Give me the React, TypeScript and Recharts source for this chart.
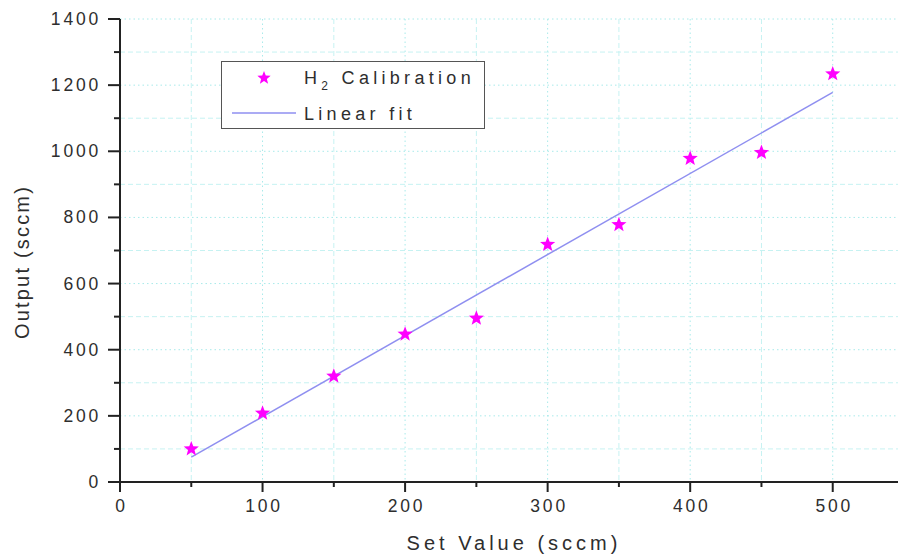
import React from 'react';
import { ComposedChart, Scatter, XAxis, YAxis, CartesianGrid } from 'recharts';

// H2 flow controller calibration: set value vs measured output (sccm)
const setValues = [50, 100, 150, 200, 250, 300, 350, 400, 450, 500];
const outputs = [100, 208, 320, 447, 495, 718, 778, 978, 996, 1234];

// end points of the linear fit line
const fitX = [50, 500];
const fitY = [75, 1178];

const xTicks = [0, 50, 100, 150, 200, 250, 300, 350, 400, 450, 500, 550];
const xMajor = [0, 100, 200, 300, 400, 500];
const xMinor = [50, 150, 250, 350, 450, 550];
const yTicks = [0, 100, 200, 300, 400, 500, 600, 700, 800, 900, 1000, 1100, 1200, 1300, 1400];
const yMajor = [0, 200, 400, 600, 800, 1000, 1200, 1400];
const yMinor = [100, 300, 500, 700, 900, 1100, 1300];

const calibData = setValues.map((x, i) => ({ x, y: outputs[i] }));
const fitData = fitX.map((x, i) => ({ x, y: fitY[i] }));

const FONT = '"Liberation Sans", Arial, sans-serif';
const TEXT = '#2e2e2e';
const AXIS = '#222';
const STAR = '#ff00ff';
const FIT = '#8f8ff0';

const starPoints = (cx: number, cy: number, r: number, ri: number) => {
  const pts: string[] = [];
  for (let i = 0; i < 10; i++) {
    const rad = i % 2 === 0 ? r : ri;
    const a = -Math.PI / 2 + (i * Math.PI) / 5;
    pts.push(`${cx + rad * Math.cos(a)},${cy + rad * Math.sin(a)}`);
  }
  return pts.join(' ');
};

const StarShape = (props: any) => {
  const { cx, cy } = props;
  return <polygon points={starPoints(cx, cy, 8, 3.4)} fill={STAR} />;
};

const NoShape = () => null;

const makeTick = (side: 'left' | 'bottom' | 'top' | 'right') => (props: any) => {
  const { x, y, payload } = props;
  const v = payload.value;
  const horiz = side === 'bottom' || side === 'top';
  const major = horiz ? xMajor.includes(v) : yMajor.includes(v);
  const len = major ? (horiz ? 10 : 12) : (horiz ? 5 : 6);
  let line;
  if (side === 'bottom' || side === 'top') line = <line x1={x} y1={y} x2={x} y2={y + len} />;
  else line = <line x1={x} y1={y} x2={x - len} y2={y} />;
  let label = null;
  if (major && side === 'bottom') {
    label = (
      <text x={x + 1.5} y={y + 30} textAnchor="middle" fill={TEXT} stroke="none"
        fontSize={17.5} letterSpacing={2.8} fontFamily={FONT}>{v}</text>
    );
  }
  if (major && side === 'left') {
    label = (
      <text x={x - 19} y={y + 6} textAnchor="end" fill={TEXT} stroke="none"
        fontSize={17.5} letterSpacing={2.8} fontFamily={FONT}>{v}</text>
    );
  }
  return (
    <g stroke={AXIS} strokeWidth={2}>
      {line}
      {label}
    </g>
  );
};

const YTitle = () => (
  <text x={22} y={262} transform="rotate(-90 22 262)" textAnchor="middle" dominantBaseline="central"
    fill={TEXT} fontSize={20} letterSpacing={2.2} fontFamily={FONT}>Output (sccm)</text>
);

const XTitle = () => (
  <text x={514} y={543} textAnchor="middle" dominantBaseline="central"
    fill={TEXT} fontSize={20} letterSpacing={4} fontFamily={FONT}>Set Value (sccm)</text>
);

const LegendBox = () => (
  <div style={styles.legend}>
    <svg width={262} height={66} style={{ position: 'absolute', left: 0, top: 0 }}>
      <polygon points={starPoints(42, 16, 7, 3)} fill={STAR} />
      <line x1={10} y1={51} x2={74} y2={51} stroke={FIT} strokeWidth={1.5} />
      <text x={82} y={22} fill={TEXT} fontSize={18} letterSpacing={4.3} fontFamily={FONT}>
        H<tspan fontSize={12} dy={6}>2</tspan><tspan dy={-6}> Calibration</tspan>
      </text>
      <text x={82} y={58} fill={TEXT} fontSize={18} letterSpacing={4.3} fontFamily={FONT}>Linear fit</text>
    </svg>
  </div>
);

export default function App() {
  return (
    <div style={styles.page}>
      <ComposedChart width={910} height={556} margin={{ top: 19, right: 6, bottom: 0, left: 40 }}>
        <CartesianGrid verticalValues={xMajor} horizontalValues={yMajor}
          stroke="#a8eaea" strokeDasharray="1.5 3" />
        <CartesianGrid verticalValues={xMinor} horizontalValues={yMinor}
          stroke="#c6f2f2" strokeDasharray="5 3" />
        <XAxis type="number" dataKey="x" domain={[0, 550]} ticks={xTicks} interval={0}
          height={74} tickSize={0} tickMargin={0} tickLine={false}
          axisLine={{ stroke: AXIS, strokeWidth: 2 }} tick={makeTick('bottom')}
          label={<XTitle />} />
        <XAxis xAxisId="top" orientation="top" type="number" domain={[0, 550]} ticks={xTicks}
          interval={0} height={0} tickSize={0} tickMargin={0} tickLine={false}
          axisLine={{ stroke: AXIS, strokeWidth: 2 }} tick={makeTick('top')} />
        <YAxis type="number" dataKey="y" domain={[0, 1400]} ticks={yTicks} interval={0}
          width={80} tickSize={0} tickMargin={0} tickLine={false}
          axisLine={{ stroke: AXIS, strokeWidth: 2 }} tick={makeTick('left')}
          label={<YTitle />} />
        <YAxis yAxisId="right" orientation="right" type="number" domain={[0, 1400]} ticks={yTicks}
          interval={0} width={0} tickSize={0} tickMargin={0} tickLine={false}
          axisLine={{ stroke: AXIS, strokeWidth: 2 }} tick={makeTick('right')} />
        <Scatter data={fitData} line={{ stroke: FIT, strokeWidth: 1.5 }} shape={NoShape}
          isAnimationActive={false} />
        <Scatter data={calibData} shape={StarShape} isAnimationActive={false} />
      </ComposedChart>
      <LegendBox />
    </div>
  );
}

const styles: Record<string, React.CSSProperties> = {
  page: {
    position: 'absolute',
    left: 0,
    top: 0,
    width: 898,
    height: 556,
    overflow: 'hidden',
    background: '#fff',
  },
  legend: {
    position: 'absolute',
    left: 221,
    top: 61,
    width: 262,
    height: 66,
    border: '1.5px solid #555',
    background: '#fff',
  },
};
